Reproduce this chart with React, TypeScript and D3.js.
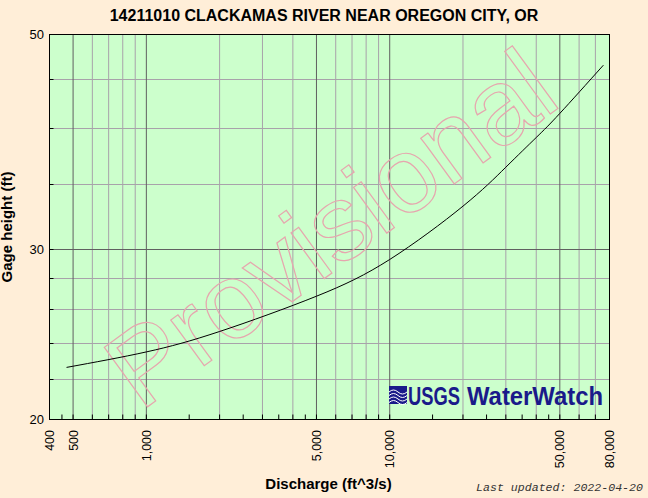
import React from "react";
import * as d3 from "d3";

const TITLE = "14211010 CLACKAMAS RIVER NEAR OREGON CITY, OR";
const discharge = [470, 1000, 2000, 5000, 10000, 20000, 30000, 40000, 50000, 75500];
const stage = [22.64, 23.49, 24.66, 26.82, 29.27, 33.23, 36.46, 39.13, 41.44, 46.48];
const xTickLabels = [400, 500, 1000, 5000, 10000, 50000, 80000];
const xMajorGrid = [500, 1000, 5000, 10000, 50000];
const xMinorGrid = [600, 700, 800, 900, 2000, 3000, 4000, 6000, 7000, 8000, 9000, 20000, 30000, 40000, 60000, 70000];
const xTicks = [450, 500, 600, 700, 800, 900, 1000, 1500, 2000, 2500, 3000, 3500, 4000, 4500, 5000, 6000, 7000, 8000, 9000, 10000, 15000, 20000, 25000, 30000, 35000, 40000, 45000, 50000, 60000, 70000];
const yTickLabels = [20, 30, 50];
const yMajorGrid = [30];
const yMinorGrid = [22, 24, 26, 28, 35, 40, 45];

const W = 648, H = 498;
const L = 49.5, R = 609.5, T = 34.5, B = 419.5;

export default function App() {
  const x = d3.scaleLog().domain([400, 80000]).range([L, R]);
  const y = d3.scaleLog().domain([20, 50]).range([B, T]);
  const pts: [number, number][] = discharge.map((q, i) => [q, stage[i]]);
  const line = d3.line<[number, number]>().x(d => x(d[0])).y(d => y(d[1])).curve(d3.curveNatural);
  const fmt = d3.format(",");
  const cx = (L + R) / 2, cy = (T + B) / 2;
  return (
    <div style={{ position: "fixed", left: 0, top: 0, width: W, height: H }}>
      <svg width={W} height={H} style={{ display: "block", fontFamily: "'Liberation Sans', Arial, sans-serif" }}>
        <rect x={0} y={0} width={W} height={H} fill="#FFEED8" />
        <rect x={L} y={T} width={R - L} height={B - T} fill="#CCFFCC" />
        {xMinorGrid.map(v => (
          <line key={"xm" + v} x1={x(v)} x2={x(v)} y1={T} y2={B} stroke="#A8A2AA" strokeWidth={1} />
        ))}
        {yMinorGrid.map(v => (
          <line key={"ym" + v} x1={L} x2={R} y1={Math.round(y(v)) + 0.5} y2={Math.round(y(v)) + 0.5} stroke="#A8A2AA" strokeWidth={1} />
        ))}
        {xMajorGrid.map(v => (
          <line key={"xM" + v} x1={x(v)} x2={x(v)} y1={T} y2={B} stroke="#606060" strokeWidth={1} />
        ))}
        {yMajorGrid.map(v => (
          <line key={"yM" + v} x1={L} x2={R} y1={Math.round(y(v)) + 0.5} y2={Math.round(y(v)) + 0.5} stroke="#606060" strokeWidth={1} />
        ))}
        <text
          transform={`translate(${cx},${cy}) rotate(-36)`}
          textAnchor="middle"
          dy="0.36em"
          fontSize={107}
          fill="none"
          stroke="#E6A6AE"
          strokeWidth={1.2}
          fontFamily="'Liberation Sans', Arial, sans-serif"
        >Provisional</text>
        {xTicks.map(v => (
          <line key={"xt" + v} x1={x(v)} x2={x(v)} y1={B} y2={B - 5} stroke="#000" strokeWidth={1} />
        ))}
        {[...yMinorGrid, ...yMajorGrid].map(v => (
          <line key={"yt" + v} x1={L} x2={L + 4} y1={Math.round(y(v)) + 0.5} y2={Math.round(y(v)) + 0.5} stroke="#000" strokeWidth={1} />
        ))}
        <path d={line(pts) || ""} fill="none" stroke="#000" strokeWidth={1} />
        <g>
          <rect x={389} y={386} width={18} height={18} fill="#1A1A8A" />
          {[0, 1, 2, 3].map(i => (
            <path key={"w" + i} d={`M389,${392 + i * 3.5} q4.5,-4 9,0 t9,0`} fill="none" stroke="#fff" strokeWidth={1} />
          ))}
          <text x={408} y={404.5} fontSize={26} fontWeight="bold" fill="#1A1A8A" textLength={52} lengthAdjust="spacingAndGlyphs">USGS</text>
          <text x={467} y={404.5} fontSize={25} fontWeight="bold" fill="#1A1A8A" textLength={136} lengthAdjust="spacingAndGlyphs">WaterWatch</text>
        </g>
        <rect x={L} y={T} width={R - L} height={B - T} fill="none" stroke="#000" strokeWidth={1} />
        {yTickLabels.map(v => (
          <text key={"yl" + v} x={44} y={y(v)} dy="0.36em" textAnchor="end" fontSize={13} fill="#000">{v}</text>
        ))}
        {xTickLabels.map(v => (
          <text key={"xl" + v} transform={`translate(${x(v)},430) rotate(-90)`} dy="0.36em" textAnchor="end" fontSize={12.5} fill="#000">{fmt(v)}</text>
        ))}
        <text x={324} y={21} textAnchor="middle" fontSize={16} fontWeight="bold" fill="#000">{TITLE}</text>
        <text x={cx - 1} y={489} textAnchor="middle" fontSize={15} fontWeight="bold" fill="#000">Discharge (ft^3/s)</text>
        <text transform={`translate(12,${cy}) rotate(-90)`} textAnchor="middle" fontSize={15} fontWeight="bold" fill="#000">Gage height (ft)</text>
        <text x={643} y={491} textAnchor="end" fontSize={11.6} fontStyle="italic" fontFamily="'Liberation Mono', 'Courier New', monospace" fill="#333">Last updated: 2022-04-20</text>
      </svg>
    </div>
  );
}
